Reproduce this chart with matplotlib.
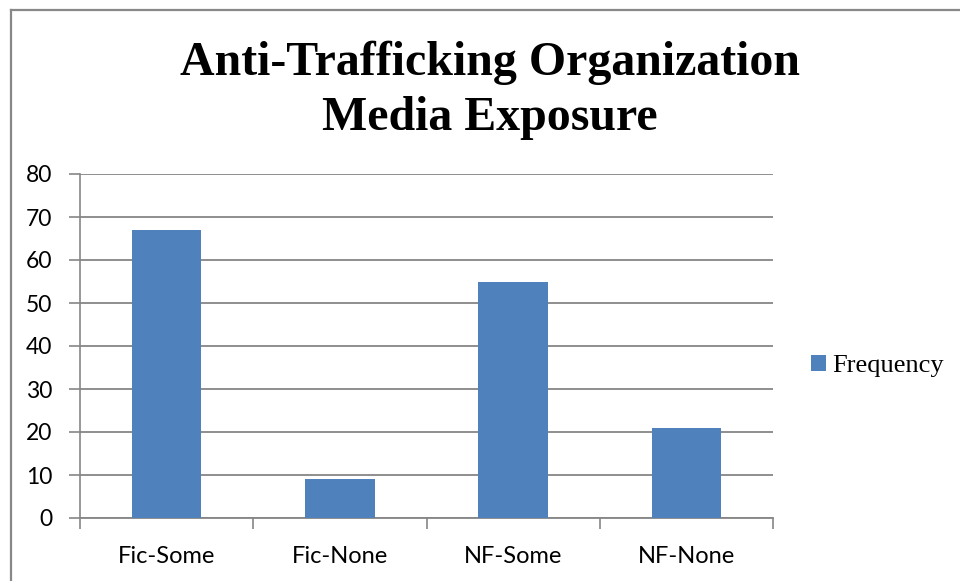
import matplotlib
matplotlib.use("Agg")
import matplotlib.pyplot as plt
from matplotlib.lines import Line2D

categories = ["Fic-Some", "Fic-None", "NF-Some", "NF-None"]
frequency = [67, 9, 55, 21]
y_ticks = [0, 10, 20, 30, 40, 50, 60, 70, 80]

W, H = 960, 581
fig = plt.figure(figsize=(W / 100, H / 100), dpi=100)
fig.patch.set_facecolor("white")

# outer chart frame (left and top edges)
frame_color = "#888888"
fig.add_artist(Line2D([10.5 / W, 10.5 / W], [0, 1 - 9.5 / H],
                      transform=fig.transFigure, color=frame_color,
                      linewidth=1.6, solid_capstyle="projecting"))
fig.add_artist(Line2D([10.5 / W, 1.0], [1 - 9.5 / H, 1 - 9.5 / H],
                      transform=fig.transFigure, color=frame_color,
                      linewidth=1.6, solid_capstyle="projecting"))

ax_left, ax_right = 80, 773
ax_top, ax_bottom = 174, 518
ax = fig.add_axes([ax_left / W, 1 - ax_bottom / H,
                   (ax_right - ax_left) / W, (ax_bottom - ax_top) / H])

bar_color = "#4F81BD"
grid_color = "#868686"
x = list(range(len(categories)))
ax.bar(x, frequency, width=0.4, color=bar_color, label="Frequency", zorder=3)

ax.set_xlim(-0.5, len(categories) - 0.5)
ax.set_ylim(0, 80)
ax.set_yticks(y_ticks)
ax.set_yticklabels([str(v) for v in y_ticks], fontfamily="Lato", fontsize=16.5)
ax.yaxis.grid(True, color=grid_color, linewidth=1.3, zorder=0)
ax.set_axisbelow(True)

ax.set_xticks([i - 0.5 for i in range(len(categories) + 1)], minor=False)
ax.set_xticklabels([])
ax.set_xticks(x, minor=True)
ax.set_xticklabels(categories, minor=True, fontfamily="Lato", fontsize=17)
ax.tick_params(axis="x", which="major", length=8, color=grid_color, width=1.2)
ax.tick_params(axis="x", which="minor", length=0, pad=20)
ax.tick_params(axis="y", length=8, color=grid_color, width=1.2, pad=12)

for side in ["top", "right"]:
    ax.spines[side].set_visible(False)
ax.spines["left"].set_color(grid_color)
ax.spines["left"].set_linewidth(1.2)
ax.spines["bottom"].set_color(grid_color)
ax.spines["bottom"].set_linewidth(1.3)

title_x = 490 / W
fig.text(title_x, 1 - 75 / H, "Anti-Trafficking Organization", ha="center",
         va="baseline", fontfamily="Liberation Serif", fontweight="bold",
         fontsize=34.5)
fig.text(title_x, 1 - 130 / H, "Media Exposure", ha="center", va="baseline",
         fontfamily="Liberation Serif", fontweight="bold", fontsize=34.5)

fig.legend(loc="center left", bbox_to_anchor=(811 / W, 1 - 366 / H),
           frameon=False, prop={"family": "Liberation Serif", "size": 19},
           handlelength=0.55, handleheight=0.55, handletextpad=0.25,
           borderpad=0, borderaxespad=0)

fig.savefig("out.png", dpi=100)
